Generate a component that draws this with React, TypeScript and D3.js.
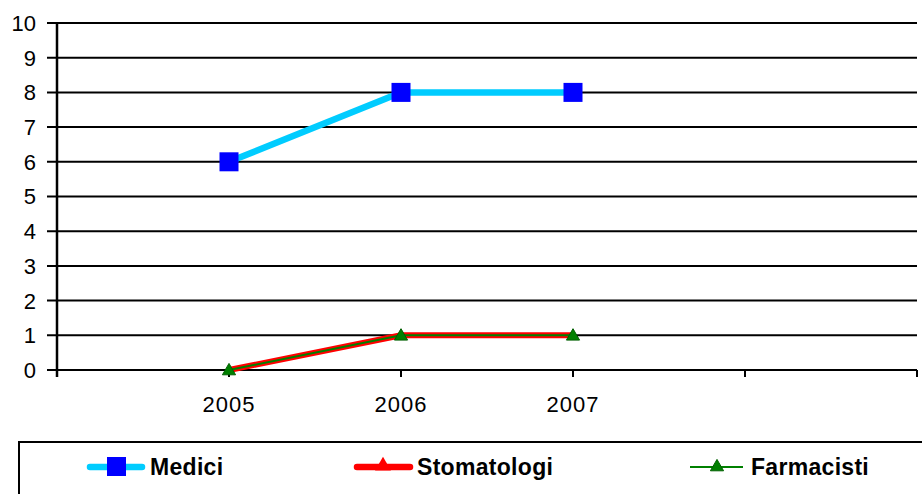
import React, { useRef, useEffect } from 'react';
import * as d3 from 'd3';

const categories = ['', '2005', '2006', '2007', '', ''];
const yTicks = [0, 1, 2, 3, 4, 5, 6, 7, 8, 9, 10];

const medici = [null, 6, 8, 8, null, null];
const stomatologi = [null, 0, 1, 1, null, null];
const farmacisti = [null, 0, 1, 1, null, null];

const seriesNames = ['Medici', 'Stomatologi', 'Farmacisti'];

const FONT = "Arial, 'Liberation Sans', sans-serif";

const App = () => {
  const ref = useRef<SVGSVGElement>(null);

  useEffect(() => {
    const width = 922;
    const height = 494;
    const left = 57;
    const right = 917;
    const top = 23;
    const bottom = 370;

    const svg = d3.select(ref.current)
      .attr('width', width)
      .attr('height', height);
    svg.selectAll('*').remove();

    svg.append('rect')
      .attr('width', width)
      .attr('height', height)
      .attr('fill', '#fff');

    const x = d3.scalePoint<number>()
      .domain(d3.range(categories.length))
      .range([left, right]);

    const y = d3.scaleLinear()
      .domain([0, 10])
      .range([bottom, top]);

    // gridlines
    svg.append('g')
      .selectAll('line')
      .data(yTicks)
      .enter().append('line')
      .attr('x1', left - 10)
      .attr('x2', right)
      .attr('y1', d => y(d))
      .attr('y2', d => y(d))
      .attr('stroke', '#000')
      .attr('stroke-width', 2);

    // y labels
    svg.append('g')
      .selectAll('text')
      .data(yTicks)
      .enter().append('text')
      .attr('x', 36)
      .attr('y', d => y(d))
      .attr('dy', '0.36em')
      .attr('text-anchor', 'end')
      .attr('font-family', FONT)
      .attr('font-size', 22)
      .attr('fill', '#000')
      .text(d => d);

    // y axis line
    svg.append('line')
      .attr('x1', left).attr('x2', left)
      .attr('y1', top).attr('y2', bottom + 7)
      .attr('stroke', '#000')
      .attr('stroke-width', 2.5);

    // x ticks
    svg.append('g')
      .selectAll('line')
      .data(d3.range(categories.length))
      .enter().append('line')
      .attr('x1', d => x(d)!)
      .attr('x2', d => x(d)!)
      .attr('y1', bottom)
      .attr('y2', bottom + 7)
      .attr('stroke', '#000')
      .attr('stroke-width', 2);

    svg.append('g')
      .selectAll('text')
      .data(d3.range(categories.length))
      .enter().append('text')
      .attr('x', d => x(d)!)
      .attr('y', 412)
      .attr('text-anchor', 'middle')
      .attr('font-family', FONT)
      .attr('font-size', 22)
      .attr('letter-spacing', 1)
      .attr('fill', '#000')
      .text(d => categories[d]);

    const lineGen = d3.line<number | null>()
      .defined(d => d !== null)
      .x((_, i) => x(i)!)
      .y(d => y(d as number));

    const tri = d3.symbol().type(d3.symbolTriangle).size(75);

    // Stomatologi
    svg.append('path')
      .datum(stomatologi)
      .attr('d', lineGen)
      .attr('fill', 'none')
      .attr('stroke', '#ff0000')
      .attr('stroke-width', 6);

    // Farmacisti
    svg.append('path')
      .datum(farmacisti)
      .attr('d', lineGen)
      .attr('fill', 'none')
      .attr('stroke', '#008000')
      .attr('stroke-width', 2);

    svg.append('g')
      .selectAll('path')
      .data(farmacisti.map((v, i) => ({ v, i })).filter(d => d.v !== null))
      .enter().append('path')
      .attr('d', tri)
      .attr('transform', d => `translate(${x(d.i)},${y(d.v as number) + 1})`)
      .attr('fill', '#008000')
      .attr('stroke', '#006000')
      .attr('stroke-width', 1);

    // Medici
    svg.append('path')
      .datum(medici)
      .attr('d', lineGen)
      .attr('fill', 'none')
      .attr('stroke', '#00ccff')
      .attr('stroke-width', 6.5);

    svg.append('g')
      .selectAll('rect')
      .data(medici.map((v, i) => ({ v, i })).filter(d => d.v !== null))
      .enter().append('rect')
      .attr('x', d => x(d.i)! - 9.5)
      .attr('y', d => y(d.v as number) - 9.5)
      .attr('width', 19)
      .attr('height', 19)
      .attr('fill', '#0000ff');

    // legend
    svg.append('rect')
      .attr('x', 19)
      .attr('y', 442)
      .attr('width', 920)
      .attr('height', 80)
      .attr('fill', 'none')
      .attr('stroke', '#000')
      .attr('stroke-width', 2);

    const ly = 467;
    const legend = svg.append('g');

    // Medici entry
    legend.append('line')
      .attr('x1', 90).attr('x2', 142)
      .attr('y1', ly).attr('y2', ly)
      .attr('stroke', '#00ccff')
      .attr('stroke-width', 6.5)
      .attr('stroke-linecap', 'round');
    legend.append('rect')
      .attr('x', 107).attr('y', ly - 10)
      .attr('width', 19).attr('height', 19)
      .attr('fill', '#0000ff');

    // Stomatologi entry
    legend.append('line')
      .attr('x1', 357).attr('x2', 410)
      .attr('y1', ly).attr('y2', ly)
      .attr('stroke', '#ff0000')
      .attr('stroke-width', 6.5)
      .attr('stroke-linecap', 'round');
    legend.append('path')
      .attr('d', d3.symbol().type(d3.symbolTriangle).size(110))
      .attr('transform', `translate(383,${ly - 1})`)
      .attr('fill', '#ff0000');

    // Farmacisti entry
    legend.append('line')
      .attr('x1', 690).attr('x2', 743)
      .attr('y1', ly).attr('y2', ly)
      .attr('stroke', '#008000')
      .attr('stroke-width', 2);
    legend.append('path')
      .attr('d', tri)
      .attr('transform', `translate(717,${ly})`)
      .attr('fill', '#008000')
      .attr('stroke', '#006000')
      .attr('stroke-width', 1);

    const labelX = [150, 417, 751];
    legend.selectAll('text')
      .data(seriesNames)
      .enter().append('text')
      .attr('x', (_, i) => labelX[i])
      .attr('y', ly)
      .attr('dy', '0.36em')
      .attr('font-family', FONT)
      .attr('font-size', 23)
      .attr('font-weight', 'bold')
      .attr('letter-spacing', 0.3)
      .attr('fill', '#000')
      .text(d => d);
  }, []);

  return <svg ref={ref} style={{ position: 'absolute', left: 0, top: 0, display: 'block' }}></svg>;
};

export default App;
